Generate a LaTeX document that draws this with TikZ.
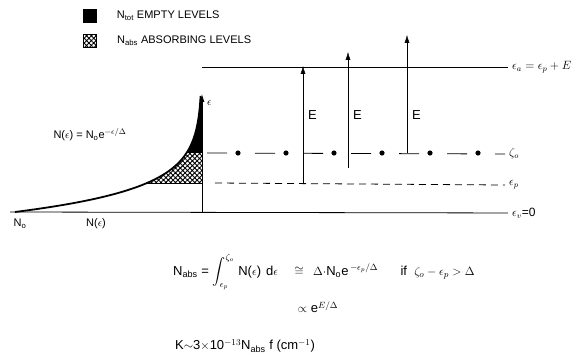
\documentclass[tikz,border=0pt]{standalone}
\usepackage{amsmath,amssymb}
\usepackage{fontspec}
\setmainfont{Liberation Sans}
\usetikzlibrary{positioning,arrows.meta,patterns.meta}

\begin{document}
\begin{tikzpicture}[x=1pt, y=-1pt, font=\fontsize{11}{13}\selectfont,
  >={Latex[length=8pt,width=5pt]},
  declare function={dos(\e)=202-187*exp(-\e/23.7);}]
\tikzstyle{level}=[line width=0.8pt]
\tikzstyle{lbl}=[anchor=west, inner sep=4pt, font=\fontsize{12}{14}\selectfont]
\tikzstyle{key}=[draw, minimum size=13pt, inner sep=0pt]
\tikzstyle{xhatch}=[pattern={Hatch[angle=45,distance=3.4pt,line width=0.9pt]}]
\tikzstyle{big}=[font=\fontsize{13}{15}\selectfont, inner sep=1pt]
\useasboundingbox (0,0) rectangle (579,358);
% legend
\node[key, fill=black] (kfull) at (90,16) {};
\node[key, xhatch] (khatch) at (90,41) {};
\node[right=20pt of kfull, inner sep=0pt] (tfull) {N$_\text{tot}$ EMPTY LEVELS};
\node[right=20pt of khatch, inner sep=0pt] (thatch) {N$_\text{abs}$ ABSORBING LEVELS};
% density of states
\fill[black] plot[domain=59:114, samples=40] ({dos(\x)},{212-\x})
  -- (202,98) -- (202,153) -- cycle;
\path[xhatch] plot[domain=29:59, samples=30] ({dos(\x)},{212-\x})
  -- (202,153) -- (202,183) -- cycle;
\draw[level] ({dos(29)},183) -- (202,183);
\draw[line width=1.8pt] plot[domain=0:116, samples=80] ({dos(\x)},{212-\x});
\coordinate (o) at (202,213);
\coordinate (etop) at (202,94);
\draw[level, ->] (o) -- (etop);
\node[anchor=north west, inner sep=1pt] (eps) at (206,100) {$\epsilon$};
\node[anchor=west] (nfun) at (50,135) {N($\epsilon$) = N$_\text{o}$e$^{-\epsilon/\Delta}$};
\node (no) at (20,224) {N$_\text{o}$};
\node (ne) at (96,224) {N($\epsilon$)};
% levels
\coordinate (va) at (202,67);
\coordinate (zs) at (207,153);
\coordinate (ps) at (215,183);
\coordinate (vs) at (10,212);
\node[lbl] (la) at (508,67) {$\epsilon_a=\epsilon_p+E$};
\node[lbl] (lz) at (505,154) {$\zeta_o$};
\node[lbl] (lp) at (505,185) {$\epsilon_p$};
\node[lbl] (lv) at (508,213) {$\epsilon_v$=0};
\draw[level] (va) -- (la);
\draw[level, dash pattern=on 20pt off 28pt] (zs) -- (lz.west);
\foreach \k in {0,...,5}
  \fill (238+48*\k,153) circle (2.6pt);
\draw[level, dash pattern=on 7pt off 5pt] (ps) -- (lp.west);
\draw[level] (vs) -- (lv);
% transitions
\coordinate (p1) at (303,183); \coordinate (q1) at (303,66);
\coordinate (p2) at (348,168); \coordinate (q2) at (348,52);
\coordinate (p3) at (407,153); \coordinate (q3) at (407,35);
\draw[->] (p1) -- node[big, pos=0.58, right, inner sep=5pt] (e1) {E} (q1);
\draw[->] (p2) -- node[big, pos=0.46, right, inner sep=5pt] (e2) {E} (q2);
\draw[->] (p3) -- node[big, pos=0.32, right, inner sep=5pt] (e3) {E} (q3);
% formulas
\node[big, anchor=west] (fabs) at (172,272)
  {N$_\text{abs}$ = $\displaystyle\int_{\epsilon_p}^{\zeta_o}$\hspace{4pt}N($\epsilon$)\hspace{5pt}d$\epsilon$};
\node[big, base right=14pt of fabs] (fcong) {$\cong$};
\node[big, base right=7pt of fcong] (fdelta) {$\Delta\cdot$N$_\text{o}$e$^{\,-\epsilon_p/\Delta}$};
\node[big, base right=20pt of fdelta] (fif) {if \ $\zeta_o-\epsilon_p>\Delta$};
\node[big] (fprop) at (318,307) {$\propto$ e$^{E/\Delta}$};
\node[big, anchor=west] (fk) at (174,346) {K$\sim$3$\times$10$^{-13}$N$_\text{abs}$ f (cm$^{-1}$)};
\end{tikzpicture}
\end{document}
